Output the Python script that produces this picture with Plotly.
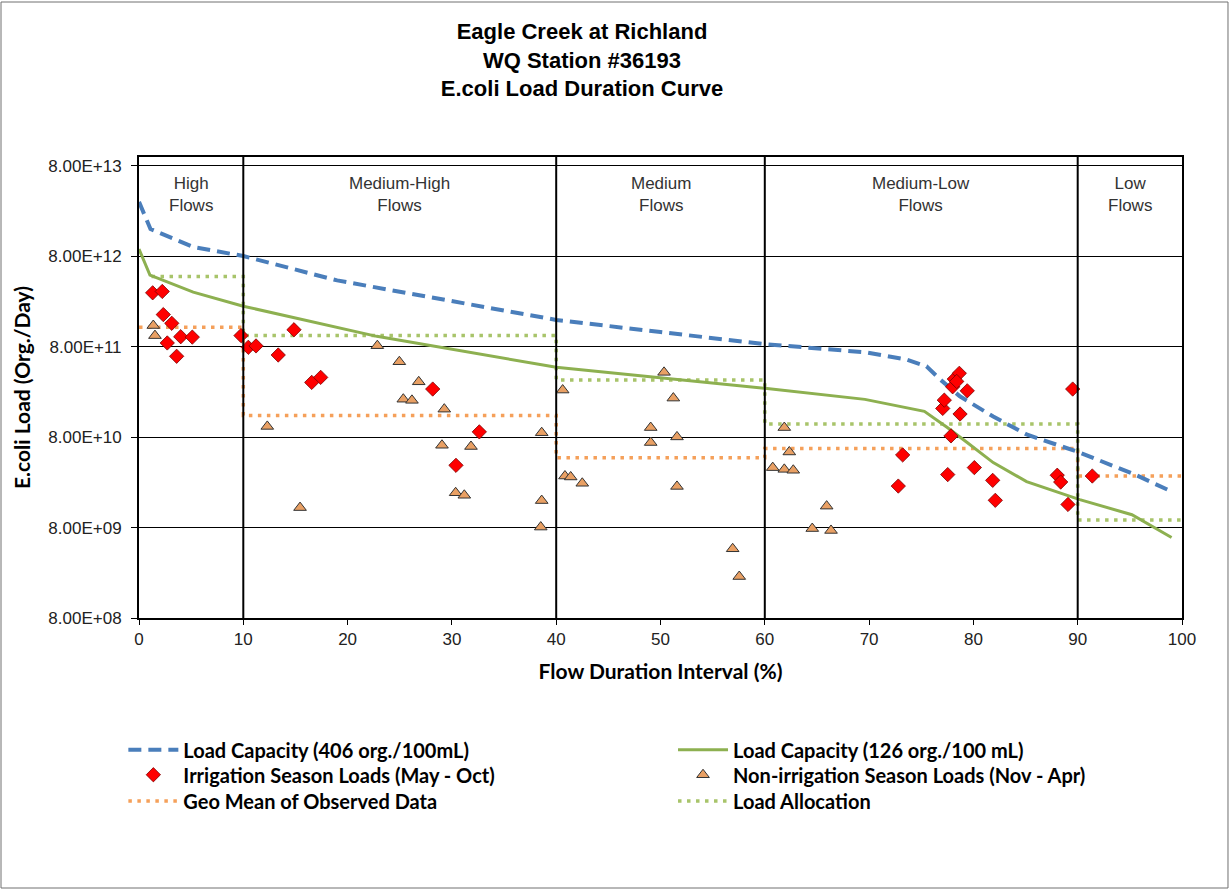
import plotly.graph_objects as go

# ---------------- data ----------------
# Load capacity curve at 406 org./100mL
cap406_x = [0, 1.1, 5.2, 10, 19.0, 29.8, 40, 50, 59.8, 69.6, 73.5, 75.5, 76.8, 78.7, 81.9, 85.1, 88.3, 90, 95.5, 99]
cap406_y = [3.19e13, 1.6e13, 1.01e13, 8.04e12, 4.32e12, 2.59e12, 1.58e12, 1.16e12, 8.57e11, 6.94e11, 5.8e11,
            4.85e11, 3.48e11, 2.26e11, 1.35e11, 8.55e10, 6.3e10, 5.5e10, 3.08e10, 2.0e10]

# Load capacity curve at 126 org./100 mL
cap126_x = [0, 1.05, 5.2, 10, 22.8, 40, 60, 69.6, 75.3, 77.5, 79.4, 81.9, 85.1, 88.3, 90.2, 95.2, 99]
cap126_y = [9.6e12, 4.95e12, 3.21e12, 2.24e12, 1.04e12, 4.73e11, 2.77e11, 2.09e11, 1.54e11, 1.02e11, 6.97e10,
            4.18e10, 2.58e10, 1.95e10, 1.63e10, 1.11e10, 6.2e9]

# Flow zones
zone_edges = [0, 10, 40, 60, 90, 100]
zone_names = ["High<br>Flows", "Medium-High<br>Flows", "Medium<br>Flows", "Medium-Low<br>Flows", "Low<br>Flows"]

# Geo mean of observed data per zone
geo_mean = [1.31e12, 1.39e11, 4.72e10, 6.0e10, 2.98e10]
# Load allocation per zone
la_edges = [1.2, 10, 40, 60, 90, 100]
load_alloc = [4.77e12, 1.06e12, 3.42e11, 1.12e11, 9.7e9]

# Irrigation season loads (May - Oct)
irr_x = [1.31, 2.23, 2.33, 3.14, 2.71, 4.0, 5.11, 3.61, 9.78, 10.48, 11.22, 13.35, 14.86, 16.56, 17.42, 28.16,
         32.63, 30.39, 73.22, 72.80, 77.54, 77.85, 77.06, 77.21, 78.72, 78.01, 78.17, 78.65, 79.41, 80.09, 81.85,
         82.10, 88.04, 88.37, 89.07, 89.52, 91.40, 78.4]
irr_y = [3.15e12, 3.26e12, 1.81e12, 1.45e12, 8.79e11, 1.03e12, 1.02e12, 6.26e11, 1.06e12, 7.87e11, 8.15e11,
         6.47e11, 1.23e12, 3.22e11, 3.66e11, 2.72e11, 9.14e10, 3.9e10, 5.08e10, 2.3e10, 3.08e10, 8.25e10,
         1.66e11, 2.05e11, 1.44e11, 2.88e11, 3.51e11, 4.06e11, 2.6e11, 3.68e10, 2.66e10, 1.6e10, 3.03e10,
         2.55e10, 1.44e10, 2.72e11, 2.97e10, 3.3e11]

# Non-irrigation season loads (Nov - Apr)
non_x = [1.37, 1.53, 22.85, 24.96, 26.82, 25.34, 26.17, 29.27, 12.30, 29.05, 31.83, 30.36, 31.19, 15.44, 38.61,
         38.61, 38.52, 40.62, 40.84, 41.39, 42.50, 50.34, 51.23, 49.06, 49.06, 51.58, 51.58, 56.92, 57.55, 61.87,
         62.35, 60.76, 61.87, 62.73, 65.93, 64.55, 66.35]
non_y = [1.37e12, 1.06e12, 8.2e11, 5.45e11, 3.27e11, 2.1e11, 2.04e11, 1.63e11, 1.05e11, 6.5e10, 6.3e10, 1.94e10,
         1.82e10, 1.33e10, 8.95e10, 1.59e10, 8.1e9, 2.65e11, 2.97e10, 2.9e10, 2.47e10, 4.16e11, 2.16e11, 1.02e11,
         6.97e10, 8.04e10, 2.28e10, 4.66e9, 2.3e9, 1.02e11, 5.48e10, 3.68e10, 3.52e10, 3.44e10, 1.38e10, 7.8e9,
         7.43e9]

# Axis ticks
y_tickvals = [8e8, 8e9, 8e10, 8e11, 8e12, 8e13]
y_ticktext = ["8.00E+08", "8.00E+09", "8.00E+10", "8.00E+11", "8.00E+12", "8.00E+13"]
x_tickvals = [0, 10, 20, 30, 40, 50, 60, 70, 80, 90, 100]


def steps(edges, vals):
    xs, ys = [], []
    for i, v in enumerate(vals):
        xs += [edges[i], edges[i + 1]]
        ys += [v, v]
    return xs, ys


FONT = "Liberation Sans, Arial, sans-serif"
BFONT = "Lato, Liberation Sans, sans-serif"

fig = go.Figure()

gx, gy = steps(zone_edges, geo_mean)
lx, ly = steps(la_edges, load_alloc)

fig.add_trace(go.Scatter(x=gx, y=gy, mode="lines", name="Geo Mean of Observed Data", legend="legend5",
                         line=dict(color="#F5A05A", width=3.5, dash="3.5px,5.5px")))
fig.add_trace(go.Scatter(x=lx, y=ly, mode="lines", name="Load Allocation", legend="legend6",
                         line=dict(color="#A8C46A", width=3.5, dash="3.5px,5.5px")))
fig.add_trace(go.Scatter(x=cap126_x, y=cap126_y, mode="lines", name="Load Capacity (126 org./100 mL)",
                         legend="legend2", line=dict(color="#8DB050", width=3)))
fig.add_trace(go.Scatter(x=cap406_x, y=cap406_y, mode="lines", name="Load Capacity (406 org./100mL)",
                         legend="legend",
                         line=dict(color="#4A7EBB", width=4, dash="13px,7px")))
fig.add_trace(go.Scatter(x=irr_x, y=irr_y, mode="markers", name="Irrigation Season Loads (May - Oct)",
                         legend="legend3",
                         marker=dict(symbol="diamond", size=11, color="#FF0000",
                                     line=dict(color="#7A0000", width=0.8))))
fig.add_trace(go.Scatter(x=non_x, y=non_y, mode="markers", name="Non-irrigation Season Loads (Nov - Apr)",
                         legend="legend4",
                         marker=dict(symbol="triangle-up", size=11, color="#E9A064",
                                     line=dict(color="#333333", width=1))))

# vertical zone separators
for e in zone_edges[1:-1]:
    fig.add_shape(type="line", xref="x", yref="paper", x0=e, x1=e, y0=0, y1=1,
                  line=dict(color="black", width=2), layer="above")

# zone labels
for i, nm in enumerate(zone_names):
    fig.add_annotation(x=(zone_edges[i] + zone_edges[i + 1]) / 2, xref="x", y=0.918, yref="paper",
                       text=nm, showarrow=False, font=dict(family=FONT, size=17, color="#333333"),
                       yanchor="middle")

# outer border
fig.add_shape(type="rect", xref="paper", yref="paper", x0=-0.1323, x1=1.0441, y0=-0.5857, y1=1.3362,
              line=dict(color="#707070", width=1))


def leg(x, y):
    return dict(x=x, y=y, orientation="v", yanchor="middle", xanchor="left", itemwidth=50,
                font=dict(family=BFONT, size=20, color="black", weight="bold"),
                bgcolor="rgba(0,0,0,0)")


LX, RX = -0.015, 0.512
R1, R2, R3 = -0.286, -0.340, -0.397

fig.update_layout(
    width=1230, height=890,
    margin=dict(l=139, r=48, t=157, b=272),
    paper_bgcolor="white", plot_bgcolor="white",
    font=dict(family=FONT, color="black"),
    title=dict(text="Eagle Creek at Richland<br>WQ Station #36193<br>E.coli Load Duration Curve",
               x=582 / 1230, xanchor="center", xref="container", y=1 - 39 / 890, yanchor="top",
               font=dict(family=FONT, size=22, color="black", weight="bold")),
    xaxis=dict(range=[0, 100], tickvals=x_tickvals, showgrid=False, zeroline=False,
               showline=True, linecolor="black", linewidth=2, mirror=True,
               ticks="outside", ticklen=5, tickcolor="black", ticklabelstandoff=0,
               tickfont=dict(family=FONT, size=17, color="#222222"),
               title=dict(text="Flow Duration Interval (%)", standoff=16,
                          font=dict(family=BFONT, size=21, color="black", weight="bold"))),
    yaxis=dict(type="log", range=[8.90309, 14], tickvals=y_tickvals, ticktext=y_ticktext,
               showgrid=True, gridcolor="black", gridwidth=1, zeroline=False,
               showline=True, linecolor="black", linewidth=2, mirror=True,
               ticks="outside", ticklen=6, tickcolor="black", ticklabelstandoff=6,
               tickfont=dict(family=FONT, size=17, color="#222222"),
               title=dict(text="E.coli Load (Org./Day)", standoff=12,
                          font=dict(family=BFONT, size=21, color="black", weight="bold"))),
    legend=leg(LX, R1), legend2=leg(RX, R1),
    legend3=leg(LX, R2), legend4=leg(RX, R2),
    legend5=leg(LX, R3), legend6=leg(RX, R3),
    showlegend=True,
)

fig.write_html("out.html", post_script="document.body.style.margin='0px';",
               config={"displayModeBar": False})
